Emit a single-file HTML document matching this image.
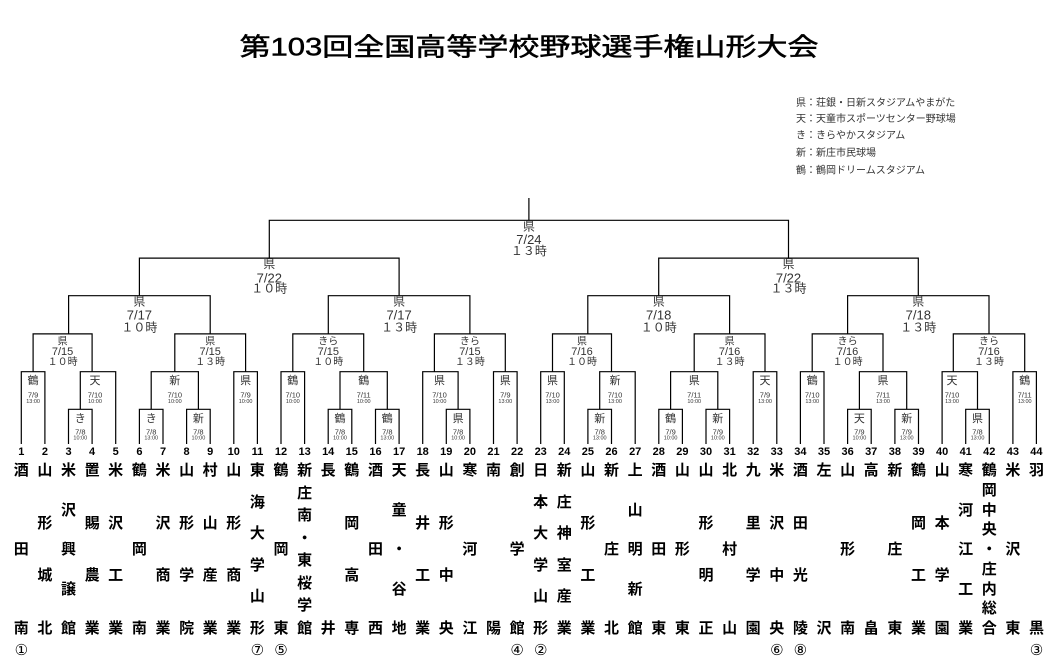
<!DOCTYPE html>
<html><head><meta charset="utf-8"><style>
html,body{margin:0;padding:0;background:#fff;}
#w{position:relative;width:1058px;height:665px;overflow:hidden;font-family:"Liberation Sans","Noto Sans CJK JP",sans-serif;}
svg{position:absolute;left:0;top:0;}
svg text{font-family:"Liberation Sans","Noto Sans CJK JP",sans-serif;fill:#333;text-anchor:middle;dominant-baseline:central;}
.n{position:absolute;top:462px;height:174px;width:22px;display:flex;flex-direction:column;justify-content:space-between;align-items:center;font-family:"Noto Sans CJK JP",sans-serif;font-weight:bold;font-size:15px;line-height:16px;color:#000;}
.num{position:absolute;top:445px;width:24px;text-align:center;font-weight:bold;font-size:11px;line-height:14px;color:#000;}
.c{position:absolute;top:642px;width:20px;text-align:center;font-size:15px;line-height:16px;color:#000;font-family:"DejaVu Sans","Noto Sans CJK JP",sans-serif;}
</style></head><body><div id="w">
<svg width="1058" height="665" viewBox="0 0 1058 665">
<text x="529" y="47.5" font-size="25" style="fill:#000;stroke:#000;stroke-width:0.5" textLength="579" lengthAdjust="spacingAndGlyphs">第103回全国高等学校野球選手権山形大会</text>
<g font-size="10" style="text-anchor:start">
<text x="796" y="103.3" style="text-anchor:start">県：荘銀・日新スタジアムやまがた</text>
<text x="796" y="119.3" style="text-anchor:start">天：天童市スポーツセンター野球場</text>
<text x="796" y="136" style="text-anchor:start">き：きらやかスタジアム</text>
<text x="796" y="153.3" style="text-anchor:start">新：新庄市民球場</text>
<text x="796" y="171" style="text-anchor:start">鶴：鶴岡ドリームスタジアム</text>
</g>
<path fill="none" stroke="#000" stroke-width="1.2" d="
M68.5,444V409.3H92.1V444 M139.4,444V409.3H163V444 M186.6,444V409.3H210.2V444 M328.2,444V409.3H351.8V444 M375.5,444V409.3H399.1V444 M446.3,444V409.3H469.9V444
M587.9,444V409.3H611.5V444 M658.8,444V409.3H682.4V444 M706,444V409.3H729.6V444 M847.6,444V409.3H871.2V444 M894.9,444V409.3H918.5V444 M965.7,444V409.3H989.3V444
M21.3,444V371.7H44.9V444 M80.3,409.3V371.7H115.7V444 M151.2,409.3V371.7H198.4V409.3 M233.8,444V371.7H257.4V444 M281,444V371.7H304.6V444 M340,409.3V371.7H387.3V409.3 M422.7,444V371.7H458.1V409.3 M493.5,444V371.7H517.1V444
M540.7,444V371.7H564.3V444 M599.7,409.3V371.7H635.2V444 M670.6,409.3V371.7H717.8V409.3 M753.2,444V371.7H776.8V444 M800.4,444V371.7H824V444 M859.4,409.3V371.7H906.7V409.3 M942.1,444V371.7H977.5V409.3 M1012.9,444V371.7H1036.4V444
M33.1,371.7V333.9H92.1V371.7 M174.8,371.7V333.9H245.6V371.7 M292.8,371.7V333.9H363.7V371.7 M434.4,371.7V333.9H505.3V371.7
M552.5,371.7V333.9H611.5V371.7 M694.2,371.7V333.9H765V371.7 M812.2,371.7V333.9H883V371.7 M953.3,371.7V333.9H1024.7V371.7
M68.6,333.9V295.7H210.2V333.9 M328.3,333.9V295.7H469.9V333.9 M587.8,333.9V295.7H729.6V333.9 M847.6,333.9V295.7H989V333.9
M139.4,295.7V258.1H399.1V295.7 M658.7,295.7V258.1H918.3V295.7
M269.3,258.1V220.3H788.5V258.1 M528.9,198V220.3"/>
<g font-size="12"><text x="528.9" y="226.7">県</text><text x="528.9" y="239.3" font-size="13">7/24</text><text x="528.9" y="251">１３時</text></g>
<g font-size="12">
<text x="269.3" y="264.2">県</text><text x="269.3" y="277.8" font-size="13">7/22</text><text x="269.3" y="288.6">１０時</text>
<text x="788.5" y="264.2">県</text><text x="788.5" y="277.8" font-size="13">7/22</text><text x="788.5" y="288.6">１３時</text>
<text x="139.4" y="301.4">県</text><text x="139.4" y="315" font-size="13">7/17</text><text x="139.4" y="327.5">１０時</text>
<text x="399.1" y="301.4">県</text><text x="399.1" y="315" font-size="13">7/17</text><text x="399.1" y="327.5">１３時</text>
<text x="658.7" y="301.4">県</text><text x="658.7" y="315" font-size="13">7/18</text><text x="658.7" y="327.5">１０時</text>
<text x="918.3" y="301.4">県</text><text x="918.3" y="315" font-size="13">7/18</text><text x="918.3" y="327.5">１３時</text>
</g>
<g font-size="10">
<text x="62.6" y="342">県</text><text x="62.6" y="352.1" font-size="11">7/15</text><text x="62.6" y="362.3">１０時</text>
<text x="210.2" y="342">県</text><text x="210.2" y="352.1" font-size="11">7/15</text><text x="210.2" y="362.3">１３時</text>
<text x="328.3" y="342">きら</text><text x="328.3" y="352.1" font-size="11">7/15</text><text x="328.3" y="362.3">１０時</text>
<text x="469.9" y="342">きら</text><text x="469.9" y="352.1" font-size="11">7/15</text><text x="469.9" y="362.3">１３時</text>
<text x="582" y="342">県</text><text x="582" y="352.1" font-size="11">7/16</text><text x="582" y="362.3">１０時</text>
<text x="729.6" y="342">県</text><text x="729.6" y="352.1" font-size="11">7/16</text><text x="729.6" y="362.3">１３時</text>
<text x="847.6" y="342">きら</text><text x="847.6" y="352.1" font-size="11">7/16</text><text x="847.6" y="362.3">１０時</text>
<text x="989" y="342">きら</text><text x="989" y="352.1" font-size="11">7/16</text><text x="989" y="362.3">１３時</text>
</g>
<g font-size="11">
<text x="33.1" y="380.9">鶴</text><text x="33.1" y="395" font-size="7.5">7/9</text><text x="33.1" y="401.8" font-size="5.5">13:00</text>
<text x="95" y="380.9">天</text><text x="95" y="395" font-size="7.5">7/10</text><text x="95" y="401.8" font-size="5.5">10:00</text>
<text x="174.8" y="380.9">新</text><text x="174.8" y="395" font-size="7.5">7/10</text><text x="174.8" y="401.8" font-size="5.5">10:00</text>
<text x="245.6" y="380.9">県</text><text x="245.6" y="395" font-size="7.5">7/9</text><text x="245.6" y="401.8" font-size="5.5">10:00</text>
<text x="292.8" y="380.9">鶴</text><text x="292.8" y="395" font-size="7.5">7/10</text><text x="292.8" y="401.8" font-size="5.5">10:00</text>
<text x="363.7" y="380.9">鶴</text><text x="363.7" y="395" font-size="7.5">7/11</text><text x="363.7" y="401.8" font-size="5.5">10:00</text>
<text x="439.5" y="380.9">県</text><text x="439.5" y="395" font-size="7.5">7/10</text><text x="439.5" y="401.8" font-size="5.5">10:00</text>
<text x="505.3" y="380.9">県</text><text x="505.3" y="395" font-size="7.5">7/9</text><text x="505.3" y="401.8" font-size="5.5">13:00</text>
<text x="552.5" y="380.9">県</text><text x="552.5" y="395" font-size="7.5">7/10</text><text x="552.5" y="401.8" font-size="5.5">13:00</text>
<text x="615" y="380.9">新</text><text x="615" y="395" font-size="7.5">7/10</text><text x="615" y="401.8" font-size="5.5">13:00</text>
<text x="694.2" y="380.9">県</text><text x="694.2" y="395" font-size="7.5">7/11</text><text x="694.2" y="401.8" font-size="5.5">10:00</text>
<text x="765" y="380.9">天</text><text x="765" y="395" font-size="7.5">7/9</text><text x="765" y="401.8" font-size="5.5">13:00</text>
<text x="812.2" y="380.9">鶴</text><text x="812.2" y="395" font-size="7.5">7/10</text><text x="812.2" y="401.8" font-size="5.5">13:00</text>
<text x="883" y="380.9">県</text><text x="883" y="395" font-size="7.5">7/11</text><text x="883" y="401.8" font-size="5.5">13:00</text>
<text x="952" y="380.9">天</text><text x="952" y="395" font-size="7.5">7/10</text><text x="952" y="401.8" font-size="5.5">13:00</text>
<text x="1024.7" y="380.9">鶴</text><text x="1024.7" y="395" font-size="7.5">7/11</text><text x="1024.7" y="401.8" font-size="5.5">13:00</text>
</g>
<g font-size="11">
<text x="80.3" y="419">き</text><text x="80.3" y="432" font-size="7.5">7/8</text><text x="80.3" y="438.3" font-size="5.5">10:00</text>
<text x="151.2" y="419">き</text><text x="151.2" y="432" font-size="7.5">7/8</text><text x="151.2" y="438.3" font-size="5.5">13:00</text>
<text x="198.4" y="419">新</text><text x="198.4" y="432" font-size="7.5">7/8</text><text x="198.4" y="438.3" font-size="5.5">10:00</text>
<text x="340" y="419">鶴</text><text x="340" y="432" font-size="7.5">7/8</text><text x="340" y="438.3" font-size="5.5">10:00</text>
<text x="387.3" y="419">鶴</text><text x="387.3" y="432" font-size="7.5">7/8</text><text x="387.3" y="438.3" font-size="5.5">13:00</text>
<text x="458.1" y="419">県</text><text x="458.1" y="432" font-size="7.5">7/8</text><text x="458.1" y="438.3" font-size="5.5">10:00</text>
<text x="599.7" y="419">新</text><text x="599.7" y="432" font-size="7.5">7/8</text><text x="599.7" y="438.3" font-size="5.5">13:00</text>
<text x="670.6" y="419">鶴</text><text x="670.6" y="432" font-size="7.5">7/9</text><text x="670.6" y="438.3" font-size="5.5">10:00</text>
<text x="717.8" y="419">新</text><text x="717.8" y="432" font-size="7.5">7/9</text><text x="717.8" y="438.3" font-size="5.5">10:00</text>
<text x="859.4" y="419">天</text><text x="859.4" y="432" font-size="7.5">7/9</text><text x="859.4" y="438.3" font-size="5.5">10:00</text>
<text x="906.7" y="419">新</text><text x="906.7" y="432" font-size="7.5">7/9</text><text x="906.7" y="438.3" font-size="5.5">13:00</text>
<text x="977.5" y="419">県</text><text x="977.5" y="432" font-size="7.5">7/8</text><text x="977.5" y="438.3" font-size="5.5">13:00</text>
</g>
</svg>

<div class="num" style="left:9.3px">1</div><div class="num" style="left:32.9px">2</div><div class="num" style="left:56.5px">3</div><div class="num" style="left:80.1px">4</div><div class="num" style="left:103.7px">5</div><div class="num" style="left:127.4px">6</div><div class="num" style="left:151px">7</div><div class="num" style="left:174.6px">8</div><div class="num" style="left:198.2px">9</div><div class="num" style="left:221.8px">10</div><div class="num" style="left:245.4px">11</div><div class="num" style="left:269px">12</div><div class="num" style="left:292.6px">13</div><div class="num" style="left:316.2px">14</div><div class="num" style="left:339.8px">15</div><div class="num" style="left:363.5px">16</div><div class="num" style="left:387.1px">17</div><div class="num" style="left:410.7px">18</div><div class="num" style="left:434.3px">19</div><div class="num" style="left:457.9px">20</div><div class="num" style="left:481.5px">21</div><div class="num" style="left:505.1px">22</div><div class="num" style="left:528.7px">23</div><div class="num" style="left:552.3px">24</div><div class="num" style="left:575.9px">25</div><div class="num" style="left:599.5px">26</div><div class="num" style="left:623.2px">27</div><div class="num" style="left:646.8px">28</div><div class="num" style="left:670.4px">29</div><div class="num" style="left:694px">30</div><div class="num" style="left:717.6px">31</div><div class="num" style="left:741.2px">32</div><div class="num" style="left:764.8px">33</div><div class="num" style="left:788.4px">34</div><div class="num" style="left:812px">35</div><div class="num" style="left:835.6px">36</div><div class="num" style="left:859.2px">37</div><div class="num" style="left:882.9px">38</div><div class="num" style="left:906.5px">39</div><div class="num" style="left:930.1px">40</div><div class="num" style="left:953.7px">41</div><div class="num" style="left:977.3px">42</div><div class="num" style="left:1000.9px">43</div><div class="num" style="left:1024.4px">44</div>

<div class="n" style="left:10.3px"><span>酒</span><span>田</span><span>南</span></div>
<div class="n" style="left:33.9px"><span>山</span><span>形</span><span>城</span><span>北</span></div>
<div class="n" style="left:57.5px"><span>米</span><span>沢</span><span>興</span><span>譲</span><span>館</span></div>
<div class="n" style="left:81.1px"><span>置</span><span>賜</span><span>農</span><span>業</span></div>
<div class="n" style="left:104.7px"><span>米</span><span>沢</span><span>工</span><span>業</span></div>
<div class="n" style="left:128.4px"><span>鶴</span><span>岡</span><span>南</span></div>
<div class="n" style="left:152px"><span>米</span><span>沢</span><span>商</span><span>業</span></div>
<div class="n" style="left:175.6px"><span>山</span><span>形</span><span>学</span><span>院</span></div>
<div class="n" style="left:199.2px"><span>村</span><span>山</span><span>産</span><span>業</span></div>
<div class="n" style="left:222.8px"><span>山</span><span>形</span><span>商</span><span>業</span></div>
<div class="n" style="left:246.4px"><span>東</span><span>海</span><span>大</span><span>学</span><span>山</span><span>形</span></div>
<div class="n" style="left:270px"><span>鶴</span><span>岡</span><span>東</span></div>
<div class="n" style="left:293.6px"><span>新</span><span>庄</span><span>南</span><span>・</span><span>東</span><span>桜</span><span>学</span><span>館</span></div>
<div class="n" style="left:317.2px"><span>長</span><span>井</span></div>
<div class="n" style="left:340.8px"><span>鶴</span><span>岡</span><span>高</span><span>専</span></div>
<div class="n" style="left:364.5px"><span>酒</span><span>田</span><span>西</span></div>
<div class="n" style="left:388.1px"><span>天</span><span>童</span><span>・</span><span>谷</span><span>地</span></div>
<div class="n" style="left:411.7px"><span>長</span><span>井</span><span>工</span><span>業</span></div>
<div class="n" style="left:435.3px"><span>山</span><span>形</span><span>中</span><span>央</span></div>
<div class="n" style="left:458.9px"><span>寒</span><span>河</span><span>江</span></div>
<div class="n" style="left:482.5px"><span>南</span><span>陽</span></div>
<div class="n" style="left:506.1px"><span>創</span><span>学</span><span>館</span></div>
<div class="n" style="left:529.7px"><span>日</span><span>本</span><span>大</span><span>学</span><span>山</span><span>形</span></div>
<div class="n" style="left:553.3px"><span>新</span><span>庄</span><span>神</span><span>室</span><span>産</span><span>業</span></div>
<div class="n" style="left:576.9px"><span>山</span><span>形</span><span>工</span><span>業</span></div>
<div class="n" style="left:600.5px"><span>新</span><span>庄</span><span>北</span></div>
<div class="n" style="left:624.2px"><span>上</span><span>山</span><span>明</span><span>新</span><span>館</span></div>
<div class="n" style="left:647.8px"><span>酒</span><span>田</span><span>東</span></div>
<div class="n" style="left:671.4px"><span>山</span><span>形</span><span>東</span></div>
<div class="n" style="left:695px"><span>山</span><span>形</span><span>明</span><span>正</span></div>
<div class="n" style="left:718.6px"><span>北</span><span>村</span><span>山</span></div>
<div class="n" style="left:742.2px"><span>九</span><span>里</span><span>学</span><span>園</span></div>
<div class="n" style="left:765.8px"><span>米</span><span>沢</span><span>中</span><span>央</span></div>
<div class="n" style="left:789.4px"><span>酒</span><span>田</span><span>光</span><span>陵</span></div>
<div class="n" style="left:813px"><span>左</span><span>沢</span></div>
<div class="n" style="left:836.6px"><span>山</span><span>形</span><span>南</span></div>
<div class="n" style="left:860.2px"><span>高</span><span>畠</span></div>
<div class="n" style="left:883.9px"><span>新</span><span>庄</span><span>東</span></div>
<div class="n" style="left:907.5px"><span>鶴</span><span>岡</span><span>工</span><span>業</span></div>
<div class="n" style="left:931.1px"><span>山</span><span>本</span><span>学</span><span>園</span></div>
<div class="n" style="left:954.7px"><span>寒</span><span>河</span><span>江</span><span>工</span><span>業</span></div>
<div class="n" style="left:978.3px"><span>鶴</span><span>岡</span><span>中</span><span>央</span><span>・</span><span>庄</span><span>内</span><span>総</span><span>合</span></div>
<div class="n" style="left:1001.9px"><span>米</span><span>沢</span><span>東</span></div>
<div class="n" style="left:1025.5px"><span>羽</span><span>黒</span></div>

<div class="c" style="left:11.3px">①</div>
<div class="c" style="left:247.4px">⑦</div>
<div class="c" style="left:271px">⑤</div>
<div class="c" style="left:507.1px">④</div>
<div class="c" style="left:530.7px">②</div>
<div class="c" style="left:766.8px">⑥</div>
<div class="c" style="left:790.4px">⑧</div>
<div class="c" style="left:1026.5px">③</div>
</div></body></html>
